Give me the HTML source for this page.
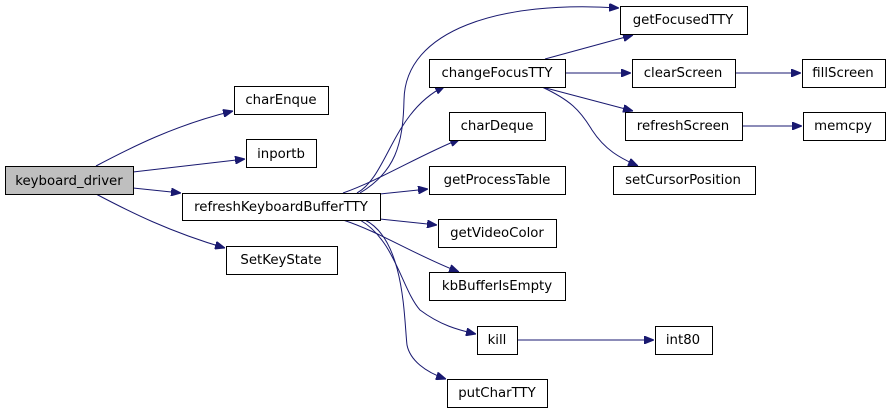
<!DOCTYPE html>
<html><head><meta charset="utf-8"><style>
html,body{margin:0;padding:0;background:#fff;width:891px;height:413px;overflow:hidden}
svg text{font-family:"DejaVu Sans","Liberation Sans",sans-serif;font-size:13.3px;fill:#000;text-anchor:middle}
</style></head><body>
<svg width="891" height="413" viewBox="0 0 891 413" xmlns="http://www.w3.org/2000/svg">
<defs><marker id="a" markerWidth="10" markerHeight="8" refX="10" refY="4" orient="auto" markerUnits="userSpaceOnUse"><path d="M0,0 L10,4 L0,8 z" fill="#191970" stroke="#191970"/></marker></defs>
<g fill="none" stroke="#191970" stroke-width="1" marker-end="url(#a)">
<path d="M96,166 C130,148 175,125 233,111"/>
<path d="M133,172 L245,159"/>
<path d="M133,188 L181,193"/>
<path d="M96,194 C130,212 170,232 225,248"/>
<path d="M360,193 C395,172 403,145 404,100 C405,30 500,0 619,8"/>
<path d="M357,193 C388,176 392,112 445,86"/>
<path d="M343,193 C380,180 420,155 460,139"/>
<path d="M380,194 L428,189"/>
<path d="M380,219 L437,225"/>
<path d="M343,220 C380,232 415,255 459,272"/>
<path d="M360,220 C395,240 402,290 420,310 C440,325 458,330 476,334"/>
<path d="M365,220 C405,240 404,320 407,345 C410,360 425,372 446,379"/>
<path d="M545,59 L633,35"/>
<path d="M565,73 L631,73"/>
<path d="M542,87 L633,111"/>
<path d="M542,87 C570,100 580,110 592,130 C605,150 620,158 638,166"/>
<path d="M735,73 L801,73"/>
<path d="M742,126 L802,126"/>
<path d="M517,340 L654,340"/>
</g>
<g stroke="#000" stroke-width="1" fill="#fff">
<rect x="5.5" y="166.5" width="128" height="28" fill="#bfbfbf"/>
<rect x="234.5" y="86.5" width="94" height="28"/>
<rect x="246.5" y="139.5" width="70" height="28"/>
<rect x="182.5" y="193.5" width="198" height="27"/>
<rect x="226.5" y="246.5" width="111" height="28"/>
<rect x="620.5" y="6.5" width="127" height="28"/>
<rect x="429.5" y="59.5" width="136" height="28"/>
<rect x="632.5" y="59.5" width="103" height="28"/>
<rect x="802.5" y="59.5" width="83" height="28"/>
<rect x="449.5" y="112.5" width="96" height="28"/>
<rect x="625.5" y="112.5" width="117" height="28"/>
<rect x="803.5" y="112.5" width="82" height="28"/>
<rect x="429.5" y="166.5" width="136" height="28"/>
<rect x="613.5" y="166.5" width="142" height="28"/>
<rect x="438.5" y="219.5" width="118" height="28"/>
<rect x="429.5" y="272.5" width="136" height="28"/>
<rect x="477.5" y="326.5" width="40" height="28"/>
<rect x="655.5" y="326.5" width="57" height="28"/>
<rect x="447.5" y="379.5" width="100" height="28"/>
</g>
<text x="69" y="185">keyboard_driver</text>
<text x="281" y="104">charEnque</text>
<text x="281" y="158">inportb</text>
<text x="281" y="211">refreshKeyboardBufferTTY</text>
<text x="281" y="264">SetKeyState</text>
<text x="683" y="24">getFocusedTTY</text>
<text x="497" y="77">changeFocusTTY</text>
<text x="683" y="77">clearScreen</text>
<text x="843" y="77">fillScreen</text>
<text x="497" y="130">charDeque</text>
<text x="683" y="130">refreshScreen</text>
<text x="843" y="130">memcpy</text>
<text x="497" y="184">getProcessTable</text>
<text x="683" y="184">setCursorPosition</text>
<text x="497" y="237">getVideoColor</text>
<text x="497" y="290">kbBufferIsEmpty</text>
<text x="497" y="344">kill</text>
<text x="683" y="344">int80</text>
<text x="497" y="397">putCharTTY</text>
</svg>
</body></html>
